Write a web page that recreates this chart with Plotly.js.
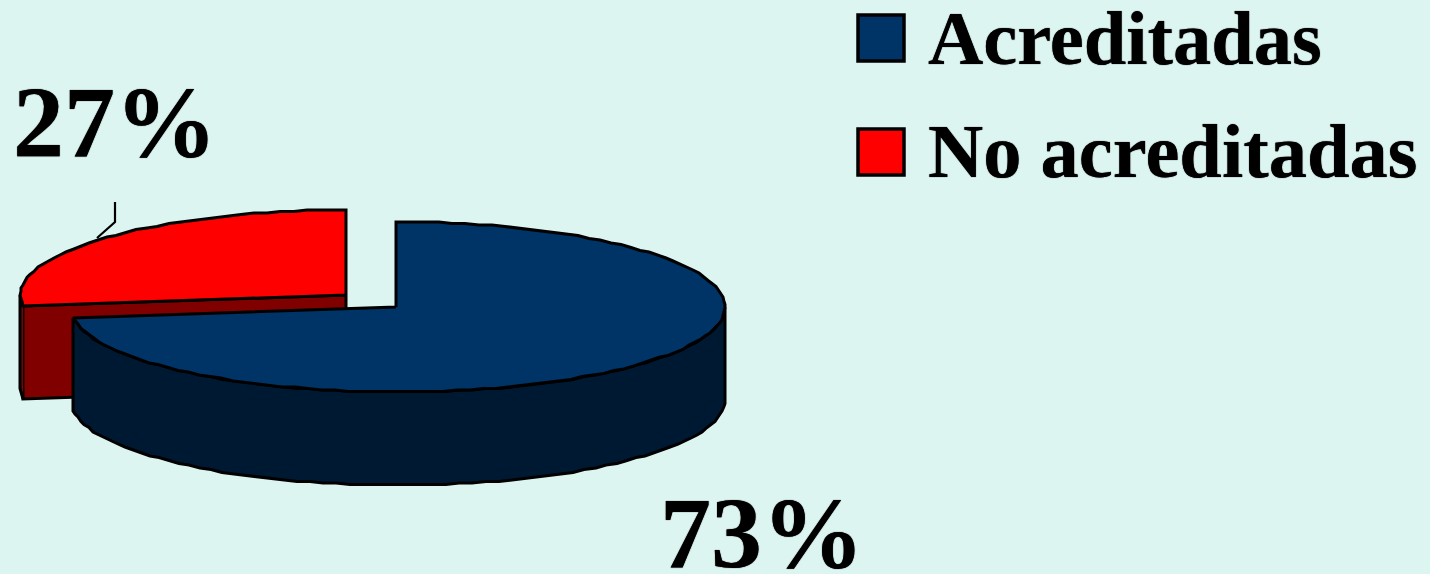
<!DOCTYPE html>
<html><head><meta charset="utf-8">
<script src="https://cdn.plot.ly/plotly-3.0.1.min.js"></script>
<style>html,body{margin:0;padding:0;background:#DCF5F1;overflow:hidden}#c{width:1430px;height:574px}</style>
</head><body><div id="c"></div>
<script>
const categories = ["Acreditadas", "No acreditadas"];
const shares = [73, 27];
const labels = ["73%", "27%"];
const topColors = ["#003366", "#FF0000"];
const wallColors = ["#001933", "#800000"];

const RX = 327.3, RY = 85, DEPTH = 93, ARC_SHIFT = 1.7;
const centers = [[396, 307], [346, 295]];
const STEP = 2.4;

function pt(c, a, dz) {
  const r = a * Math.PI / 180;
  const y = c[1] - RY * Math.cos(r);
  return [Math.round(c[0] + ARC_SHIFT + RX * Math.sin(r)), Math.round(y / 1.5) * 1.5 + (dz || 0)];
}
function arc(c, a0, a1, dz) {
  const out = [], n = Math.max(1, Math.round(Math.abs(a1 - a0) / STEP));
  for (let i = 0; i <= n; i++) out.push(pt(c, a0 + (a1 - a0) * i / n, dz));
  return out;
}
function poly(points, fill, lw) {
  return {type: "scatter", mode: "lines", x: points.map(p => p[0]), y: points.map(p => p[1]),
    fill: "toself", fillcolor: fill, line: {color: "#000", width: lw || 3, shape: "linear"},
    hoverinfo: "skip", showlegend: false};
}
const blueEnd = shares[0] / 100 * 360;
const cB = centers[0], cR = centers[1];

const traces = [];
const tipR = pt(cR, blueEnd, 0);
traces.push(poly([[cR[0], cR[1]], tipR, [tipR[0], tipR[1] + DEPTH], [cR[0], cR[1] + DEPTH], [cR[0], cR[1]]], wallColors[1]));
traces.push(poly([...arc(cR, blueEnd, 270, 0), ...arc(cR, 270, blueEnd, DEPTH)], wallColors[1]));
traces.push(poly([[cR[0], cR[1]], ...arc(cR, blueEnd, 360, 0).slice(0, -1), [cR[0], cR[1] - RY], [cR[0], cR[1]]], topColors[1]));
traces.push(poly([...arc(cB, 90, blueEnd, 0), ...arc(cB, blueEnd, 90, DEPTH)].concat([pt(cB, 90, 0)]), wallColors[0]));
traces.push(poly([[cB[0], cB[1]], [cB[0], cB[1] - RY], ...arc(cB, 0, blueEnd, 0).slice(1), [cB[0], cB[1]]], topColors[0]));
traces.push({type: "scatter", mode: "lines", x: [97, 115, 115], y: [238, 222, 202],
  line: {color: "#000", width: 2.2}, hoverinfo: "skip", showlegend: false});
traces.push({type: "scatter", mode: "markers", x: [881, 881], y: [38, 152],
  marker: {symbol: "square", size: 46, color: topColors, line: {color: "#000", width: 3.5}},
  hoverinfo: "skip", showlegend: false});

const F = "'Liberation Serif','Times New Roman',serif";
const ann = (x, y, text, size, height) => ({x, y, xref: "x", yref: "y", text: "<b>" + text + "</b>", showarrow: false,
  xanchor: "left", yanchor: "middle", height, font: {family: F, size, color: "#000", shadow: "0 0 1px #000"}});

const layout = {
  width: 1430, height: 574, margin: {l: 0, r: 0, t: 0, b: 0},
  paper_bgcolor: "#DCF5F1", plot_bgcolor: "#DCF5F1", showlegend: false,
  xaxis: {range: [0, 1430], visible: false, fixedrange: true},
  yaxis: {range: [574, 0], visible: false, fixedrange: true},
  annotations: [
    ann(926, 38, categories[0], 76.5, 60),
    ann(926, 151, categories[1], 76.5, 60),
    ann(11, 122, labels[1], 102, 76),
    ann(658, 533, labels[0], 102, 76)
  ]
};
Plotly.newPlot("c", traces, layout, {staticPlot: true, displayModeBar: false});
</script></body></html>
